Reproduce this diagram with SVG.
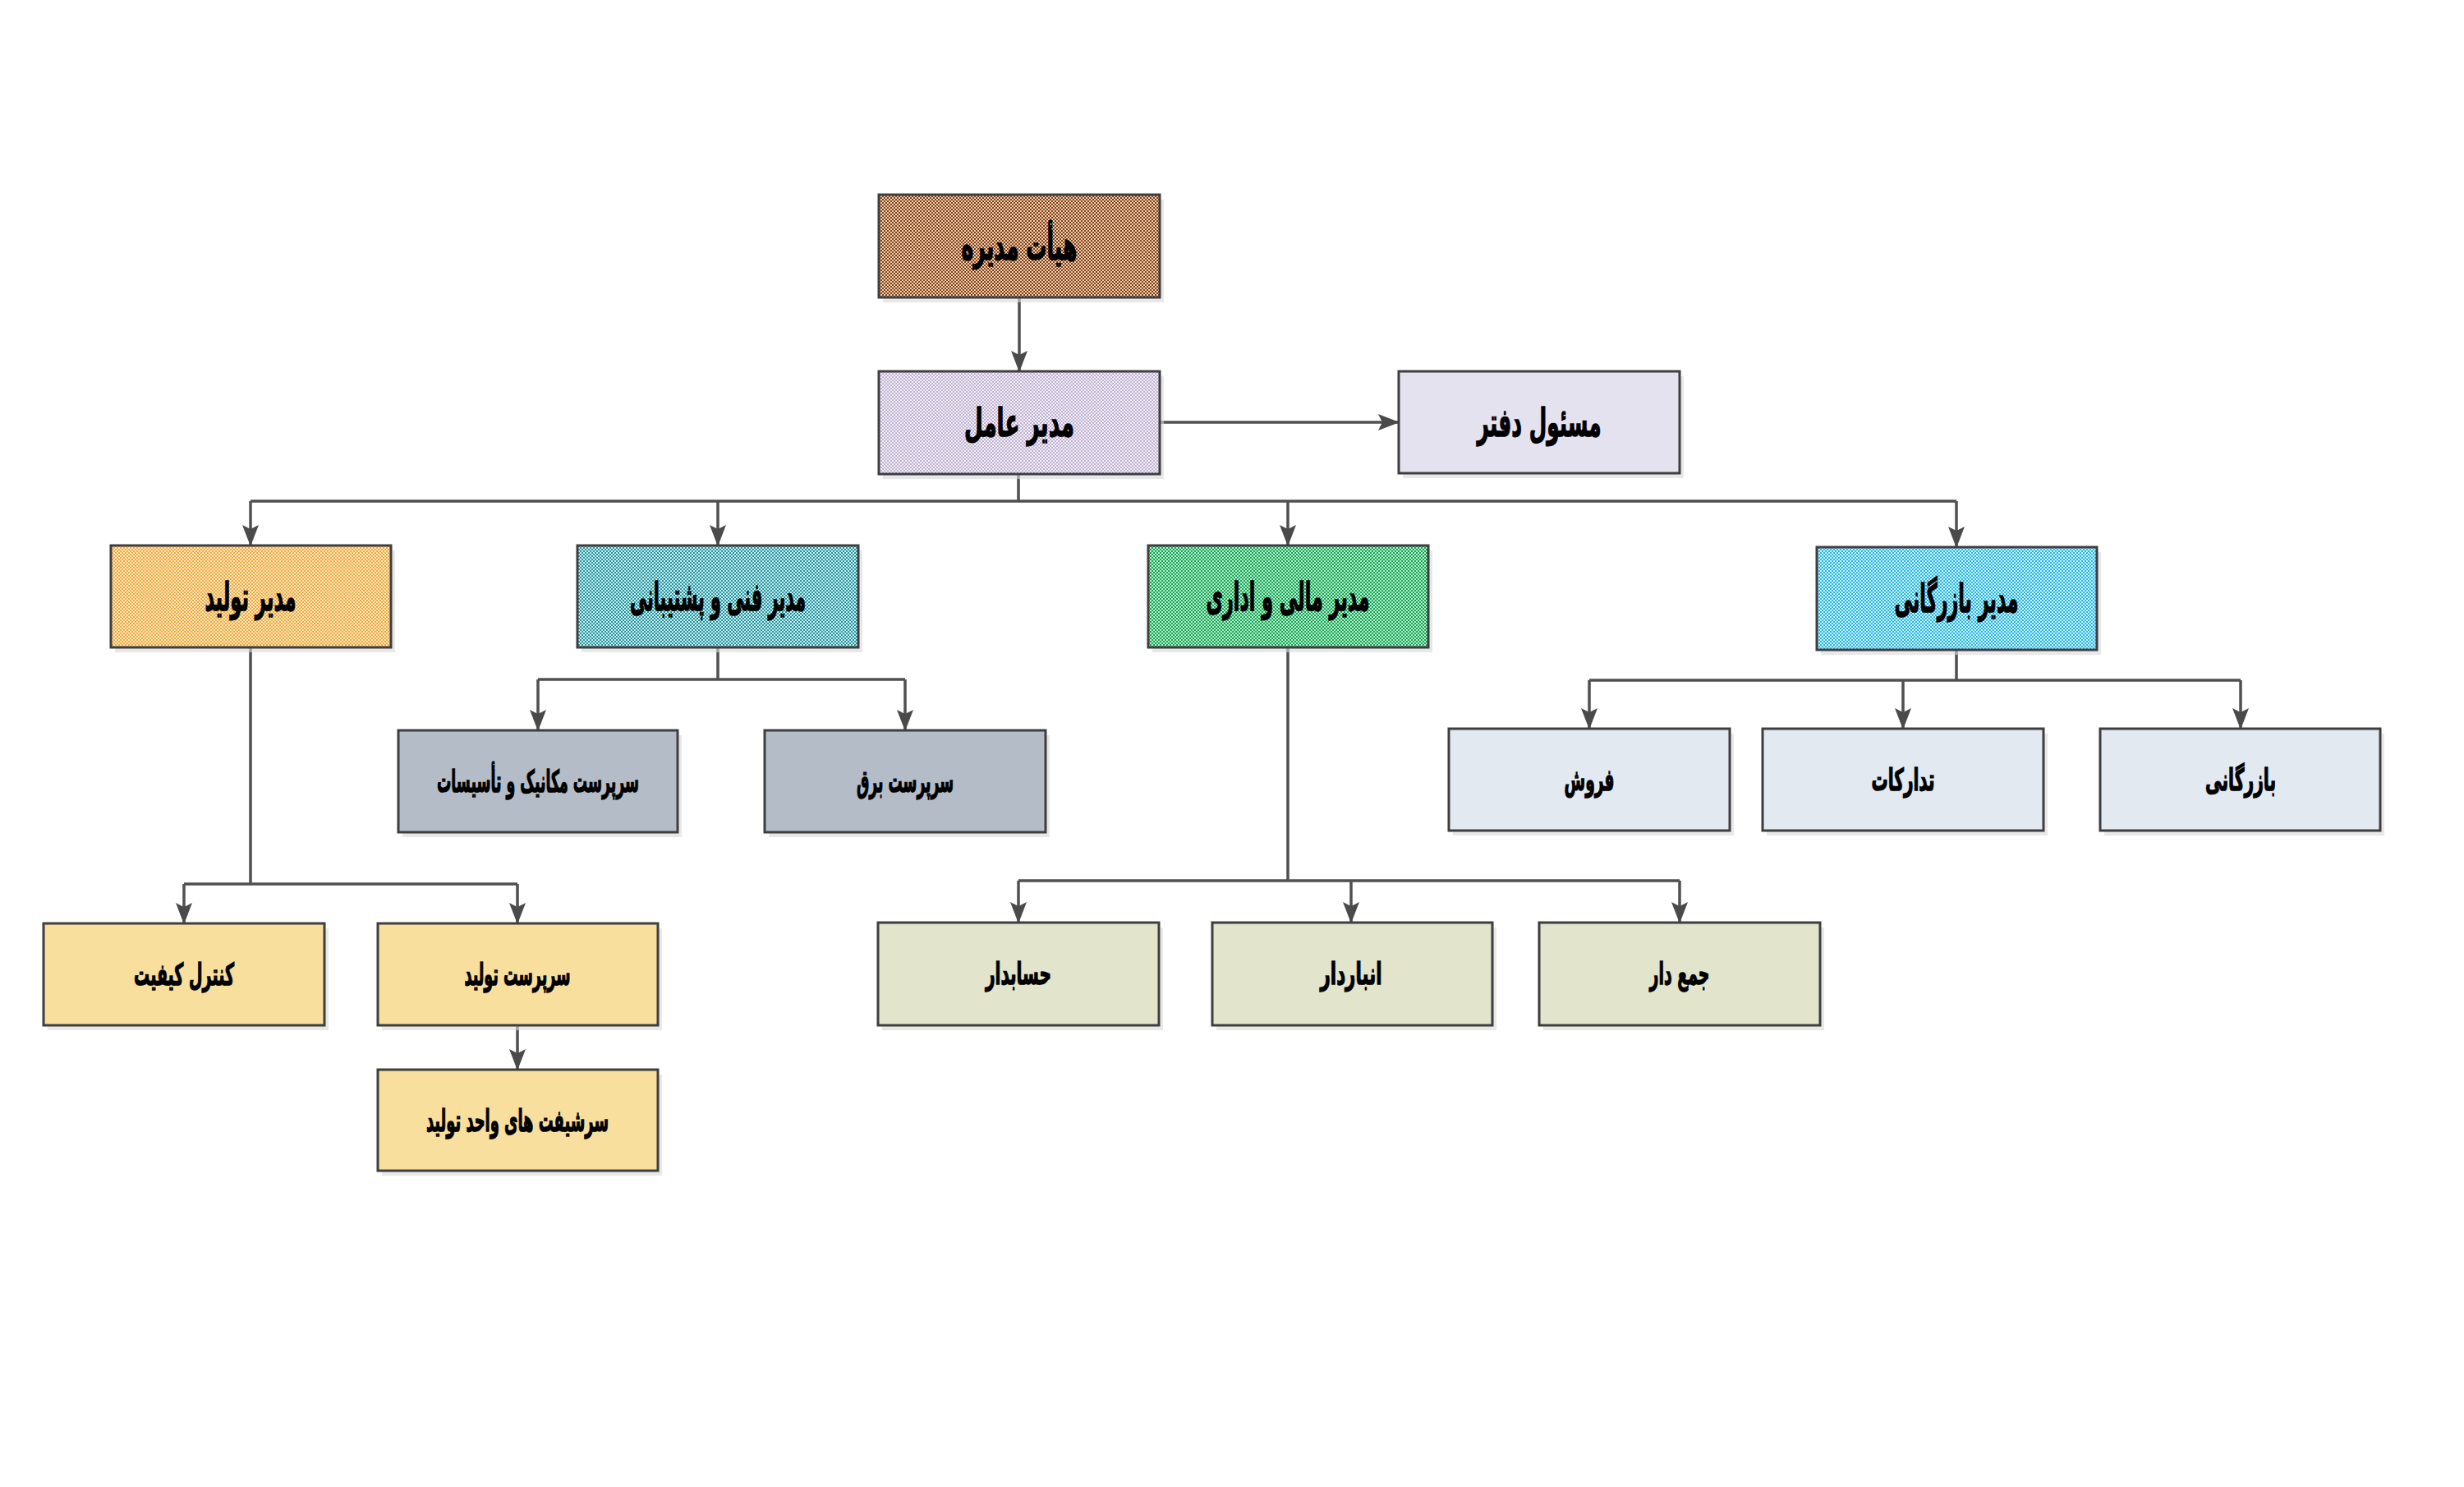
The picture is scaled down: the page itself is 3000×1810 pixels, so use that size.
<svg xmlns="http://www.w3.org/2000/svg" width="3000" height="1810" viewBox="0 0 3000 1810">
<style>
.box{stroke:#3e3e3e;stroke-width:3}
.sh{fill:#d9d9d9;opacity:0.6}
.lbl{font-family:"DejaVu Sans",sans-serif;font-weight:700;fill:#000;stroke:#000;stroke-width:1.4;text-anchor:middle;direction:rtl}
.big{font-size:48px}
.small{font-size:37px}
.ln{fill:none;stroke:#505050;stroke-width:3.5}
.arr{marker-end:url(#ah)}
</style>
<defs>
<marker id="ah" markerUnits="userSpaceOnUse" markerWidth="26" markerHeight="20" refX="25" refY="10" orient="auto" viewBox="0 0 26 20">
<path d="M0,0 L26,10 L0,20 L5,10 z" fill="#4a4a4a"/>
</marker>
<pattern id="pBrown" width="4" height="4" patternUnits="userSpaceOnUse"><rect width="4" height="4" fill="#f2d3b0"/><rect width="2" height="2" fill="#7e3c18"/><rect x="2" y="2" width="2" height="2" fill="#7e3c18"/></pattern>
<pattern id="pPurple" width="4" height="4" patternUnits="userSpaceOnUse"><rect width="4" height="4" fill="#f6f2fa"/><rect width="2" height="2" fill="#bcaed0"/><rect x="2" y="2" width="2" height="2" fill="#bcaed0"/></pattern>
<pattern id="pTeal" width="4" height="4" patternUnits="userSpaceOnUse"><rect width="4" height="4" fill="#c8f2f5"/><rect width="2" height="2" fill="#28909a"/><rect x="2" y="2" width="2" height="2" fill="#28909a"/></pattern>
<pattern id="pGreen" width="4" height="4" patternUnits="userSpaceOnUse"><rect width="4" height="4" fill="#b4f2cc"/><rect width="2" height="2" fill="#18a055"/><rect x="2" y="2" width="2" height="2" fill="#18a055"/></pattern>
<pattern id="pBlue" width="4" height="4" patternUnits="userSpaceOnUse"><rect width="4" height="4" fill="#d2f4fd"/><rect width="2" height="2" fill="#22b4e6"/><rect x="2" y="2" width="2" height="2" fill="#22b4e6"/></pattern>
<pattern id="pOrange" width="4" height="4" patternUnits="userSpaceOnUse"><rect width="4" height="4" fill="#fee9c4"/><rect width="2" height="2" fill="#f2a83a"/><rect x="2" y="2" width="2" height="2" fill="#f2a83a"/></pattern>
</defs>
<rect width="3000" height="1810" fill="#fff"/>

<g id="connectors">
<path class="ln arr" d="M1241,362 V452"/>
<path class="ln arr" d="M1412,514 H1703"/>
<path class="ln" d="M1240,577 V610 M305,610 H2382"/>
<path class="ln arr" d="M305,610 V664"/>
<path class="ln arr" d="M874,610 V664"/>
<path class="ln arr" d="M1568,610 V664"/>
<path class="ln arr" d="M2382,610 V666"/>
<path class="ln" d="M305,788 V1076 M224,1076 H630"/>
<path class="ln arr" d="M224,1076 V1124"/>
<path class="ln arr" d="M630,1076 V1124"/>
<path class="ln arr" d="M630,1248 V1302"/>
<path class="ln" d="M874,788 V827 M655,827 H1102"/>
<path class="ln arr" d="M655,827 V889"/>
<path class="ln arr" d="M1102,827 V889"/>
<path class="ln" d="M1568,788 V1072 M1240,1072 H2045"/>
<path class="ln arr" d="M1240,1072 V1123"/>
<path class="ln arr" d="M1645,1072 V1123"/>
<path class="ln arr" d="M2045,1072 V1123"/>
<path class="ln" d="M2382,791 V828 M1935,828 H2728"/>
<path class="ln arr" d="M1935,828 V887"/>
<path class="ln arr" d="M2317,828 V887"/>
<path class="ln arr" d="M2728,828 V887"/>
</g>

<g id="n-board"><rect class="sh" x="1075" y="243" width="342" height="125"/><rect class="box" x="1070" y="237" width="342" height="125" fill="url(#pBrown)"/><text class="lbl big" x="1241" y="316" textLength="141" lengthAdjust="spacingAndGlyphs">هیأت مدیره</text></g>
<g id="n-ceo"><rect class="sh" x="1075" y="458" width="342" height="125"/><rect class="box" x="1070" y="452" width="342" height="125" fill="url(#pPurple)"/><text class="lbl big" x="1241" y="531" textLength="134" lengthAdjust="spacingAndGlyphs">مدیر عامل</text></g>
<g id="n-office"><rect class="sh" x="1708" y="458" width="342" height="124"/><rect class="box" x="1703" y="452" width="342" height="124" fill="#e4e2ee"/><text class="lbl big" x="1874" y="531" textLength="151" lengthAdjust="spacingAndGlyphs">مسئول دفتر</text></g>

<g id="n-prod"><rect class="sh" x="140" y="670" width="341" height="124"/><rect class="box" x="135" y="664" width="341" height="124" fill="url(#pOrange)"/><text class="lbl big" x="305" y="743" textLength="111" lengthAdjust="spacingAndGlyphs">مدیر تولید</text></g>
<g id="n-tech"><rect class="sh" x="708" y="670" width="342" height="124"/><rect class="box" x="703" y="664" width="342" height="124" fill="url(#pTeal)"/><text class="lbl big" x="874" y="743" textLength="214" lengthAdjust="spacingAndGlyphs">مدیر فنی و پشتیبانی</text></g>
<g id="n-fin"><rect class="sh" x="1403" y="670" width="341" height="124"/><rect class="box" x="1398" y="664" width="341" height="124" fill="url(#pGreen)"/><text class="lbl big" x="1568" y="743" textLength="199" lengthAdjust="spacingAndGlyphs">مدیر مالی و اداری</text></g>
<g id="n-com"><rect class="sh" x="2217" y="672" width="341" height="125"/><rect class="box" x="2212" y="666" width="341" height="125" fill="url(#pBlue)"/><text class="lbl big" x="2382" y="745" textLength="151" lengthAdjust="spacingAndGlyphs">مدیر بازرگانی</text></g>

<g id="n-mech"><rect class="sh" x="490" y="895" width="340" height="124"/><rect class="box" x="485" y="889" width="340" height="124" fill="#b4bcc8"/><text class="lbl small" x="655" y="964" textLength="246" lengthAdjust="spacingAndGlyphs">سرپرست مکانیک و تأسیسات</text></g>
<g id="n-elec"><rect class="sh" x="936" y="895" width="342" height="124"/><rect class="box" x="931" y="889" width="342" height="124" fill="#b4bcc8"/><text class="lbl small" x="1102" y="964" textLength="118" lengthAdjust="spacingAndGlyphs">سرپرست برق</text></g>

<g id="n-sales"><rect class="sh" x="1769" y="893" width="342" height="124"/><rect class="box" x="1764" y="887" width="342" height="124" fill="#e2e9f1"/><text class="lbl small" x="1935" y="962" textLength="61" lengthAdjust="spacingAndGlyphs">فروش</text></g>
<g id="n-proc"><rect class="sh" x="2151" y="893" width="342" height="124"/><rect class="box" x="2146" y="887" width="342" height="124" fill="#e2e9f1"/><text class="lbl small" x="2317" y="962" textLength="77" lengthAdjust="spacingAndGlyphs">تدارکات</text></g>
<g id="n-trade"><rect class="sh" x="2562" y="893" width="341" height="124"/><rect class="box" x="2557" y="887" width="341" height="124" fill="#e2e9f1"/><text class="lbl small" x="2728" y="962" textLength="86" lengthAdjust="spacingAndGlyphs">بازرگانی</text></g>

<g id="n-qc"><rect class="sh" x="58" y="1130" width="342" height="124"/><rect class="box" x="53" y="1124" width="342" height="124" fill="#f8df9e"/><text class="lbl small" x="224" y="1199" textLength="122" lengthAdjust="spacingAndGlyphs">کنترل کیفیت</text></g>
<g id="n-prodsup"><rect class="sh" x="465" y="1130" width="341" height="124"/><rect class="box" x="460" y="1124" width="341" height="124" fill="#f8df9e"/><text class="lbl small" x="630" y="1199" textLength="129" lengthAdjust="spacingAndGlyphs">سرپرست تولید</text></g>
<g id="n-shift"><rect class="sh" x="465" y="1308" width="341" height="123"/><rect class="box" x="460" y="1302" width="341" height="123" fill="#f8df9e"/><text class="lbl small" x="630" y="1377" textLength="222" lengthAdjust="spacingAndGlyphs">سرشیفت های واحد تولید</text></g>

<g id="n-acc"><rect class="sh" x="1074" y="1129" width="342" height="125"/><rect class="box" x="1069" y="1123" width="342" height="125" fill="#e2e5cb"/><text class="lbl small" x="1240" y="1198" textLength="80" lengthAdjust="spacingAndGlyphs">حسابدار</text></g>
<g id="n-store"><rect class="sh" x="1481" y="1129" width="341" height="125"/><rect class="box" x="1476" y="1123" width="341" height="125" fill="#e2e5cb"/><text class="lbl small" x="1645" y="1198" textLength="75" lengthAdjust="spacingAndGlyphs">انباردار</text></g>
<g id="n-cash"><rect class="sh" x="1879" y="1129" width="342" height="125"/><rect class="box" x="1874" y="1123" width="342" height="125" fill="#e2e5cb"/><text class="lbl small" x="2045" y="1198" textLength="73" lengthAdjust="spacingAndGlyphs">جمع دار</text></g>
</svg>
